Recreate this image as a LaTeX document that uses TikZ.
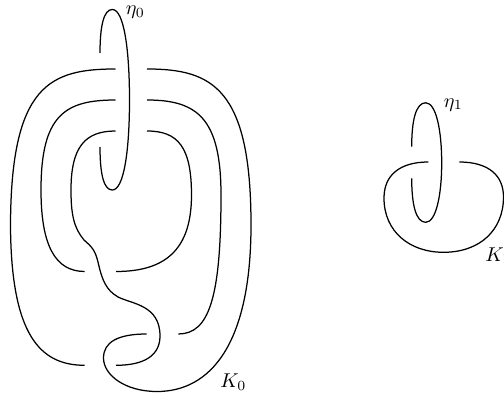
\documentclass[tikz,border=0pt]{standalone}
\tikzset{
  strand/.style={draw=black,line width=1.25pt,line cap=butt},
  lab/.style={inner sep=0pt,scale=2,anchor=base west}
}
\begin{document}
\begin{tikzpicture}[x=1pt,y=-1pt]
\useasboundingbox (0,0) rectangle (504,396);
% eta_0
\draw[strand] (100,53) .. controls (100,25) and (104,9.5) .. (112.3,9.5)
  .. controls (124,9.5) and (129.5,50) .. (129.5,100)
  .. controls (129.5,150) and (124,190) .. (112.3,190)
  .. controls (104,190) and (100,175) .. (100,147);
% K_0 left arcs
\draw[strand] (115.5,69) .. controls (50,69) and (11,85) .. (10.5,225)
  .. controls (11,335) and (40,365.3) .. (84.7,365.3);
\draw[strand] (115.5,100) .. controls (65,100) and (41,115) .. (41,190)
  .. controls (41,245) and (55,271.5) .. (84.7,271.5);
\draw[strand] (115.5,131) .. controls (85,131) and (71,147) .. (71,190)
  .. controls (71,215) and (74,228) .. (84,240)
  .. controls (92,247) and (95,250) .. (98,262)
  .. controls (102,280) and (106,290) .. (118,297)
  .. controls (132,304) and (160,305) .. (160,336)
  .. controls (160,355) and (145,365.3) .. (116,365.3);
% K_0 right arcs
\draw[strand] (147,69) .. controls (212,69) and (251,88) .. (251,225)
  .. controls (251,345) and (210,391.5) .. (157,391.5)
  .. controls (125,391.5) and (103.5,375) .. (103.5,358)
  .. controls (103.5,342) and (118,334) .. (146.7,334);
\draw[strand] (147,100) .. controls (197,100) and (221,118) .. (221,195)
  .. controls (221,298) and (209,334) .. (178.3,334);
\draw[strand] (147,131) .. controls (178,131) and (191.5,147) .. (191.5,195)
  .. controls (191.5,250) and (165,271.5) .. (116,271.5);
% eta_1
\draw[strand] (411.7,146.7) .. controls (411.7,120) and (416,102.8) .. (425.7,102.8)
  .. controls (436,102.8) and (441.7,130) .. (441.7,163)
  .. controls (441.7,195) and (436,222.3) .. (425.7,222.3)
  .. controls (416,222.3) and (411.7,205) .. (411.7,178.3);
% K_1
\draw[strand] (428.3,162) .. controls (400,162) and (384,175) .. (384,198)
  .. controls (384,232) and (410,252.3) .. (443.5,252.3)
  .. controls (480,252.3) and (503.5,230) .. (503.5,197)
  .. controls (503.5,175) and (488,162) .. (459.3,162);
% labels
\node[lab] (eta0) at (125.5,15) {$\eta_0$};
\node[lab] (k0) at (220,387) {$K_0$};
\node[lab] (eta1) at (443.5,107) {$\eta_1$};
\node[lab] (k1) at (485,261) {$K_1$};
\end{tikzpicture}
\end{document}
